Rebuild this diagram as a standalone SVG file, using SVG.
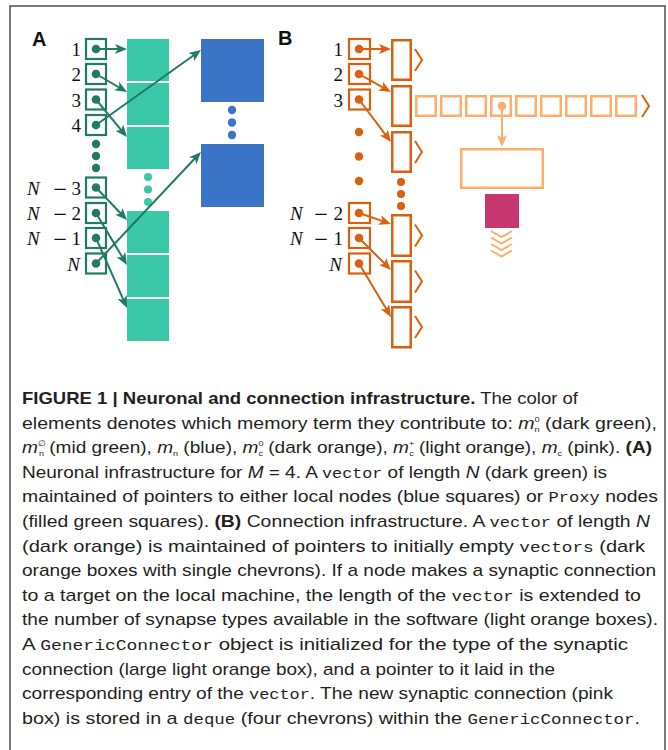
<svg xmlns="http://www.w3.org/2000/svg" width="668" height="750" viewBox="0 0 668 750">
  <style>
    .pbA { fill: #fff; stroke: #217a66; stroke-width: 2.2; }
    .dotA { fill: #217a66; }
    .cell { fill: #3ac8a8; }
    .tdot { fill: #3ac8a8; }
    .blue { fill: #3b73c7; }
    .pbB { fill: #fff; stroke: #d9600f; stroke-width: 2.2; }
    .dotB { fill: #d9600f; }
    .vec { fill: #fff; stroke: #d9600f; stroke-width: 2.5; }
    .chev { fill: none; stroke: #d9600f; stroke-width: 2; }
    .lo { fill: #fff; stroke: #fdae6b; stroke-width: 2.5; }
    .lochev { fill: none; stroke: #fdae6b; stroke-width: 2; }
    .pink { fill: #c7376f; }
    .ag { fill: none; stroke: #217a66; stroke-width: 2; marker-end: url(#ahG); }
    .ao { fill: none; stroke: #d9600f; stroke-width: 2; marker-end: url(#ahO); }
    .alo { fill: none; stroke: #fdae6b; stroke-width: 2; marker-end: url(#ahL); }
    .lbl { font-family: "Liberation Serif", "Times New Roman", serif; font-size: 19px; fill: #111; }
    .mi { font-style: italic; }
    .minus { font-family: "DejaVu Serif", serif; font-size: 18px; }
    .panel { font-family: "Liberation Sans", Arial, sans-serif; font-size: 20px; font-weight: bold; fill: #111; }
    .cap { font-family: "Liberation Sans", Arial, sans-serif; font-size: 17px; fill: #231f20; }
    .b { font-weight: bold; }
    .i { font-style: italic; }
    .mono { font-family: "Liberation Mono", "Courier New", monospace; font-size: 15px; }
    .sup { font-size: 8px; }
    .sub { font-size: 8px; }
  </style>
  <defs>
    <marker id="ahG" markerUnits="userSpaceOnUse" markerWidth="12" markerHeight="10" viewBox="0 0 12 10" refX="4" refY="5" orient="auto">
      <path d="M0,0 L12,5 L0,10 L3,5 z" fill="#217a66"/>
    </marker>
    <marker id="ahO" markerUnits="userSpaceOnUse" markerWidth="12" markerHeight="10" viewBox="0 0 12 10" refX="4" refY="5" orient="auto">
      <path d="M0,0 L12,5 L0,10 L3,5 z" fill="#d9600f"/>
    </marker>
    <marker id="ahL" markerUnits="userSpaceOnUse" markerWidth="12" markerHeight="10" viewBox="0 0 12 10" refX="4" refY="5" orient="auto">
      <path d="M0,0 L12,5 L0,10 L3,5 z" fill="#fdae6b"/>
    </marker>
  </defs>

  <rect width="668" height="750" fill="#fff"/>
  <!-- frame -->
  <rect x="10" y="6" width="655" height="800" fill="none" stroke="#333" stroke-width="1.3"/>

  <!-- panel letters -->
  <text class="panel" x="32" y="46">A</text>
  <text class="panel" x="278" y="45">B</text>

  <!-- ===== Panel A ===== -->
  <g id="a-proxy-cells">
    <rect class="cell" x="127" y="39" width="42" height="42"/>
    <rect class="cell" x="127" y="83" width="42" height="42"/>
    <rect class="cell" x="127" y="127" width="42" height="42"/>
    <circle class="tdot" cx="148" cy="177" r="4"/>
    <circle class="tdot" cx="148" cy="189.5" r="4"/>
    <circle class="tdot" cx="148" cy="202" r="4"/>
    <rect class="cell" x="127" y="211" width="42" height="42"/>
    <rect class="cell" x="127" y="255" width="42" height="42"/>
    <rect class="cell" x="127" y="299" width="42" height="42"/>
  </g>
  <g id="a-local-nodes">
    <rect class="blue" x="201" y="39" width="63" height="63"/>
    <circle class="blue" cx="232" cy="110" r="4.2"/>
    <circle class="blue" cx="232" cy="122.5" r="4.2"/>
    <circle class="blue" cx="232" cy="135" r="4.2"/>
    <rect class="blue" x="201" y="144" width="63" height="63"/>
  </g>
  <g id="a-vector">
    <g id="a-ptr-1"><rect class="pbA" x="86" y="39" width="20" height="20"/><circle class="dotA" cx="96" cy="49" r="4.3"/><text class="lbl" x="81" y="56" text-anchor="end">1</text></g>
    <g id="a-ptr-2"><rect class="pbA" x="86" y="64" width="20" height="20"/><circle class="dotA" cx="96" cy="74" r="4.3"/><text class="lbl" x="81" y="81" text-anchor="end">2</text></g>
    <g id="a-ptr-3"><rect class="pbA" x="86" y="89.5" width="20" height="20"/><circle class="dotA" cx="96" cy="99.5" r="4.3"/><text class="lbl" x="81" y="106.5" text-anchor="end">3</text></g>
    <g id="a-ptr-4"><rect class="pbA" x="86" y="115" width="20" height="20"/><circle class="dotA" cx="96" cy="125" r="4.3"/><text class="lbl" x="81" y="132" text-anchor="end">4</text></g>
    <circle class="dotA" cx="96" cy="144" r="4.2"/>
    <circle class="dotA" cx="96" cy="156" r="4.2"/>
    <circle class="dotA" cx="96" cy="168" r="4.2"/>
    <g id="a-ptr-n3"><rect class="pbA" x="86" y="177.5" width="20" height="20"/><circle class="dotA" cx="96" cy="187.5" r="4.3"/><text class="lbl" y="194.5"><tspan class="mi" x="27">N</tspan><tspan class="minus" x="60" text-anchor="middle">−</tspan><tspan x="81" text-anchor="end">3</tspan></text></g>
    <g id="a-ptr-n2"><rect class="pbA" x="86" y="203" width="20" height="20"/><circle class="dotA" cx="96" cy="213" r="4.3"/><text class="lbl" y="220"><tspan class="mi" x="27">N</tspan><tspan class="minus" x="60" text-anchor="middle">−</tspan><tspan x="81" text-anchor="end">2</tspan></text></g>
    <g id="a-ptr-n1"><rect class="pbA" x="86" y="228" width="20" height="20"/><circle class="dotA" cx="96" cy="238" r="4.3"/><text class="lbl" y="245"><tspan class="mi" x="27">N</tspan><tspan class="minus" x="60" text-anchor="middle">−</tspan><tspan x="81" text-anchor="end">1</tspan></text></g>
    <g id="a-ptr-n"><rect class="pbA" x="86" y="253.5" width="20" height="20"/><circle class="dotA" cx="96" cy="263.5" r="4.3"/><text class="lbl mi" x="80" y="270.5" text-anchor="end">N</text></g>
  </g>

  <!-- ===== Panel B ===== -->
  <g id="b-vectors">
    <g id="b-vec-1"><rect class="vec" x="392.25" y="40.25" width="18.5" height="39.5"/><polyline class="chev" points="415,49 422,60 415,71"/></g>
    <g id="b-vec-2"><rect class="vec" x="392.25" y="86.25" width="18.5" height="39.5"/></g>
    <g id="b-vec-3"><rect class="vec" x="392.25" y="132.25" width="18.5" height="39.5"/><polyline class="chev" points="415,141 422,152 415,163"/></g>
    <circle class="dotB" cx="401" cy="182" r="4"/>
    <circle class="dotB" cx="401" cy="194" r="4"/>
    <circle class="dotB" cx="401" cy="206" r="4"/>
    <g id="b-vec-n2"><rect class="vec" x="392.25" y="215.25" width="18.5" height="40.5"/><polyline class="chev" points="415,224.5 422,235.5 415,246.5"/></g>
    <g id="b-vec-n1"><rect class="vec" x="392.25" y="261.25" width="18.5" height="40.5"/><polyline class="chev" points="415,270.5 422,281.5 415,292.5"/></g>
    <g id="b-vec-n"><rect class="vec" x="392.25" y="307.25" width="18.5" height="40"/><polyline class="chev" points="415,316 422,327 415,338"/></g>
  </g>
  <g id="b-synapse-types">
    <rect class="lo" x="416.25" y="96.25" width="19.5" height="19.5"/>
    <rect class="lo" x="441.25" y="96.25" width="19.5" height="19.5"/>
    <rect class="lo" x="466.25" y="96.25" width="19.5" height="19.5"/>
    <rect class="lo" x="491.25" y="96.25" width="19.5" height="19.5"/>
    <rect class="lo" x="516.25" y="96.25" width="19.5" height="19.5"/>
    <rect class="lo" x="541.25" y="96.25" width="19.5" height="19.5"/>
    <rect class="lo" x="566.25" y="96.25" width="19.5" height="19.5"/>
    <rect class="lo" x="591.25" y="96.25" width="19.5" height="19.5"/>
    <rect class="lo" x="616.25" y="96.25" width="19.5" height="19.5"/>
    <polyline class="chev" points="642,95 649,106 642,117"/>
    <circle cx="502" cy="106" r="4.3" fill="#fdae6b"/>
  </g>
  <g id="b-generic-connector">
    <rect class="lo" x="461.25" y="149.25" width="81.5" height="38.5"/>
  </g>
  <g id="b-synapse">
    <rect class="pink" x="485" y="194" width="34" height="34"/>
  </g>
  <g id="b-deque">
    <polyline class="lochev" points="491,231 501.5,237 512,231"/>
    <polyline class="lochev" points="491,237.5 501.5,243.5 512,237.5"/>
    <polyline class="lochev" points="491,244 501.5,250 512,244"/>
    <polyline class="lochev" points="491,250.5 501.5,256.5 512,250.5"/>
  </g>
  <g id="b-vector">
    <g id="b-ptr-1"><rect class="pbB" x="349" y="39" width="21" height="20"/><circle class="dotB" cx="359" cy="49" r="4.3"/><text class="lbl" x="343" y="56" text-anchor="end">1</text></g>
    <g id="b-ptr-2"><rect class="pbB" x="349" y="64" width="21" height="20"/><circle class="dotB" cx="359" cy="74" r="4.3"/><text class="lbl" x="343" y="81" text-anchor="end">2</text></g>
    <g id="b-ptr-3"><rect class="pbB" x="349" y="89.5" width="21" height="20"/><circle class="dotB" cx="359" cy="99.5" r="4.3"/><text class="lbl" x="343" y="106.5" text-anchor="end">3</text></g>
    <circle class="dotB" cx="359" cy="132" r="4.2"/>
    <circle class="dotB" cx="359" cy="156.5" r="4.2"/>
    <circle class="dotB" cx="359" cy="181" r="4.2"/>
    <g id="b-ptr-n2"><rect class="pbB" x="349" y="203" width="21" height="20"/><circle class="dotB" cx="359" cy="213" r="4.3"/><text class="lbl" y="220"><tspan class="mi" x="290">N</tspan><tspan class="minus" x="321" text-anchor="middle">−</tspan><tspan x="343" text-anchor="end">2</tspan></text></g>
    <g id="b-ptr-n1"><rect class="pbB" x="349" y="228" width="21" height="20"/><circle class="dotB" cx="359" cy="238" r="4.3"/><text class="lbl" y="245"><tspan class="mi" x="290">N</tspan><tspan class="minus" x="321" text-anchor="middle">−</tspan><tspan x="343" text-anchor="end">1</tspan></text></g>
    <g id="b-ptr-n"><rect class="pbB" x="349" y="253.5" width="21" height="20"/><circle class="dotB" cx="359" cy="263.5" r="4.3"/><text class="lbl mi" x="342" y="270.5" text-anchor="end">N</text></g>
  </g>

  <!-- connectors -->
  <g id="connectors">
    <line class="ag" x1="96" y1="49" x2="119" y2="49"/>
    <line class="ag" x1="96" y1="74" x2="120.1" y2="88"/>
    <line class="ag" x1="96" y1="99.5" x2="121.9" y2="130.8"/>
    <line class="ag" x1="96" y1="125" x2="194.5" y2="54.7"/>
    <line class="ag" x1="96" y1="187.5" x2="121.5" y2="214.2"/>
    <line class="ag" x1="96" y1="213" x2="122.9" y2="258.1"/>
    <line class="ag" x1="96" y1="238" x2="123.8" y2="300.7"/>
    <line class="ag" x1="96" y1="263.5" x2="195.5" y2="157.8"/>

    <line class="ao" x1="359" y1="49" x2="383" y2="49"/>
    <line class="ao" x1="359" y1="74" x2="384" y2="88.1"/>
    <line class="ao" x1="359" y1="99.5" x2="386.2" y2="135.6"/>
    <line class="ao" x1="359" y1="213" x2="383.4" y2="221.4"/>
    <line class="ao" x1="359" y1="238" x2="385.3" y2="264.3"/>
    <line class="ao" x1="359" y1="263.5" x2="386.9" y2="310.1"/>

    <line class="alo" x1="502" y1="106" x2="502" y2="139"/>
  </g>

  <!-- caption -->
  <g id="caption" class="cap">
    <text x="22" y="404" textLength="556" lengthAdjust="spacingAndGlyphs"><tspan class="b">FIGURE 1 | Neuronal and connection infrastructure.</tspan> The color of</text>
    <text x="22" y="428.6" textLength="635" lengthAdjust="spacingAndGlyphs">elements denotes which memory term they contribute to: <tspan class="i">m</tspan><tspan class="sup" dy="-7">0</tspan><tspan class="sub" dx="-4.5" dy="10">n</tspan><tspan dy="-3"> (dark green),</tspan></text>
    <text x="22" y="453.2" textLength="630" lengthAdjust="spacingAndGlyphs"><tspan class="i">m</tspan><tspan class="sup" dy="-7">∅</tspan><tspan class="sub" dx="-6" dy="10">n</tspan><tspan dy="-3"> (mid green), </tspan><tspan class="i">m</tspan><tspan class="sub" dy="3">n</tspan><tspan dy="-3"> (blue), </tspan><tspan class="i">m</tspan><tspan class="sup" dy="-7">0</tspan><tspan class="sub" dx="-4.5" dy="10">c</tspan><tspan dy="-3"> (dark orange), </tspan><tspan class="i">m</tspan><tspan class="sup" dy="-7">+</tspan><tspan class="sub" dx="-4.5" dy="10">c</tspan><tspan dy="-3"> (light orange), </tspan><tspan class="i">m</tspan><tspan class="sub" dy="3">c</tspan><tspan dy="-3"> (pink). </tspan><tspan class="b">(A)</tspan></text>
    <text x="22" y="477.8" textLength="585" lengthAdjust="spacingAndGlyphs">Neuronal infrastructure for <tspan class="i">M</tspan> = 4. A <tspan class="mono">vector</tspan> of length <tspan class="i">N</tspan> (dark green) is</text>
    <text x="22" y="502.4" textLength="636" lengthAdjust="spacingAndGlyphs">maintained of pointers to either local nodes (blue squares) or <tspan class="mono">Proxy</tspan> nodes</text>
    <text x="22" y="527" textLength="628" lengthAdjust="spacingAndGlyphs">(filled green squares). <tspan class="b">(B)</tspan> Connection infrastructure. A <tspan class="mono">vector</tspan> of length <tspan class="i">N</tspan></text>
    <text x="22" y="551.6" textLength="623" lengthAdjust="spacingAndGlyphs">(dark orange) is maintained of pointers to initially empty <tspan class="mono">vectors</tspan> (dark</text>
    <text x="22" y="576.2" textLength="634" lengthAdjust="spacingAndGlyphs">orange boxes with single chevrons). If a node makes a synaptic connection</text>
    <text x="22" y="600.8" textLength="619" lengthAdjust="spacingAndGlyphs">to a target on the local machine, the length of the <tspan class="mono">vector</tspan> is extended to</text>
    <text x="22" y="625.4" textLength="636" lengthAdjust="spacingAndGlyphs">the number of synapse types available in the software (light orange boxes).</text>
    <text x="22" y="650" textLength="606" lengthAdjust="spacingAndGlyphs">A <tspan class="mono">GenericConnector</tspan> object is initialized for the type of the synaptic</text>
    <text x="22" y="674.6" textLength="533" lengthAdjust="spacingAndGlyphs">connection (large light orange box), and a pointer to it laid in the</text>
    <text x="22" y="699.2" textLength="591" lengthAdjust="spacingAndGlyphs">corresponding entry of the <tspan class="mono">vector</tspan>. The new synaptic connection (pink</text>
    <text x="22" y="723.8" textLength="618" lengthAdjust="spacingAndGlyphs">box) is stored in a <tspan class="mono">deque</tspan> (four chevrons) within the <tspan class="mono">GenericConnector</tspan>.</text>
  </g>
</svg>
